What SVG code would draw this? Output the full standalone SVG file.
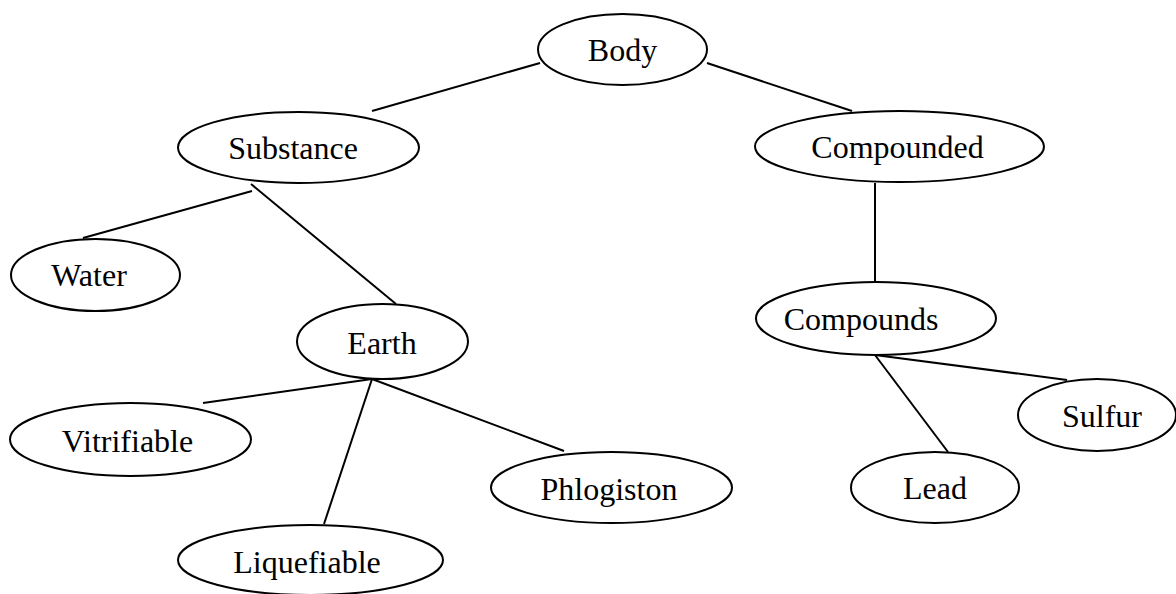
<svg xmlns="http://www.w3.org/2000/svg" width="1176" height="594" viewBox="0 0 1176 594">
<style>
.n ellipse{fill:#fff;stroke:#000;stroke-width:2}
.n text{font-family:"Liberation Serif","Times New Roman",serif;font-size:32px;fill:#000;text-anchor:middle}
#edges line{stroke:#000;stroke-width:2}
</style>
<rect width="1176" height="594" fill="#fff"/>
<g id="edges">
<line x1="372" y1="111" x2="540" y2="63"/>
<line x1="707" y1="63" x2="852" y2="111"/>
<line x1="252" y1="191" x2="83" y2="238"/>
<line x1="251" y1="184" x2="396" y2="304"/>
<line x1="875" y1="183" x2="875" y2="282"/>
<line x1="372" y1="379" x2="203" y2="403"/>
<line x1="372" y1="379" x2="324" y2="524"/>
<line x1="372" y1="379" x2="564" y2="451"/>
<line x1="875" y1="355" x2="948" y2="452"/>
<line x1="875" y1="355" x2="1067" y2="380"/>
</g>
<g id="body" class="n"><ellipse cx="622.5" cy="49.5" rx="84.5" ry="35.5"/><text x="622.5" y="61">Body</text></g>
<g id="substance" class="n"><ellipse cx="298.5" cy="147.5" rx="120.5" ry="35.5"/><text x="293" y="159">Substance</text></g>
<g id="compounded" class="n"><ellipse cx="899.5" cy="146.5" rx="144.5" ry="35.5"/><text x="897.5" y="158">Compounded</text></g>
<g id="water" class="n"><ellipse cx="95.5" cy="275" rx="84.5" ry="36"/><text x="89" y="286">Water</text></g>
<g id="earth" class="n"><ellipse cx="382.5" cy="341.5" rx="85.5" ry="37.5"/><text x="382" y="354">Earth</text></g>
<g id="compounds" class="n"><ellipse cx="876" cy="318.5" rx="120" ry="36.5"/><text x="861" y="330">Compounds</text></g>
<g id="vitrifiable" class="n"><ellipse cx="130.5" cy="439.5" rx="120.5" ry="36.5"/><text x="127.5" y="452">Vitrifiable</text></g>
<g id="phlogiston" class="n"><ellipse cx="611.5" cy="487.5" rx="120.5" ry="35.5"/><text x="609" y="500">Phlogiston</text></g>
<g id="liquefiable" class="n"><ellipse cx="310.5" cy="560" rx="132.5" ry="35"/><text x="307" y="573">Liquefiable</text></g>
<g id="lead" class="n"><ellipse cx="935" cy="487.5" rx="84" ry="35.5"/><text x="935" y="499">Lead</text></g>
<g id="sulfur" class="n"><ellipse cx="1097" cy="415" rx="79" ry="36"/><text x="1102" y="427">Sulfur</text></g>
</svg>
